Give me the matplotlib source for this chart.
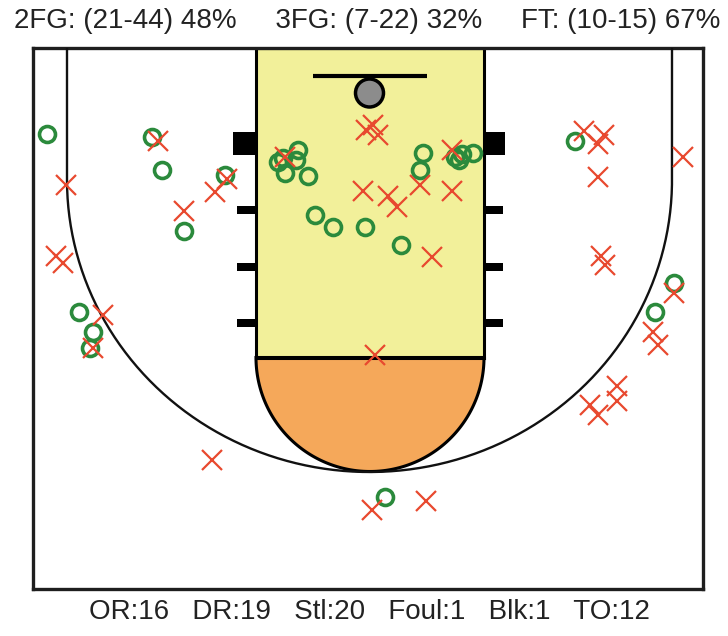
import numpy as np
import matplotlib
matplotlib.use("Agg")
import matplotlib.pyplot as plt
from matplotlib.patches import Rectangle, Circle, Polygon
from matplotlib import font_manager


# ================= DATA =================
# shooting totals (made, attempted)
fg2 = (21, 44)
fg3 = (7, 22)
ft = (10, 15)

# other box score numbers
stat_names = ["OR", "DR", "Stl", "Foul", "Blk", "TO"]
stat_values = [16, 19, 20, 1, 1, 12]

# made shots (court coords, y grows away from the baseline)
made_x = [47, 152, 162, 184, 225, 278, 283, 298, 296, 285, 308, 315, 333, 365,
          401, 423, 420, 455, 459, 462, 473, 575, 674, 655, 79, 93, 90, 385]
made_y = [134, 137, 170, 231, 175, 162, 158, 150, 160, 173, 176, 215, 227, 227,
          245, 153, 170, 157, 160, 154, 153, 141, 283, 312, 312, 332, 348, 497]

# missed shots
miss_x = [158, 66, 184, 56, 63, 215, 227, 285, 366, 373, 378, 363, 388, 397,
          420, 452, 452, 432, 584, 604, 598, 598, 683, 601, 605, 674, 653, 658,
          617, 617, 590, 598, 103, 93, 375, 212, 372, 426]
miss_y = [141, 185, 211, 256, 263, 192, 179, 157, 130, 125, 135, 191, 196, 207,
          185, 191, 150, 257, 131, 135, 144, 177, 157, 256, 265, 293, 332, 345,
          386, 401, 405, 415, 315, 348, 355, 460, 510, 501]


# ================= FONT =================
names = {f.name for f in font_manager.fontManager.ttflist}
fam = "Liberation Sans Narrow" if "Liberation Sans Narrow" in names else "Liberation Sans"
plt.rcParams["font.family"] = [fam, "DejaVu Sans"]


def pct(p):
    return "%d%%" % round(100.0 * p[0] / p[1])


# ================= FIGURE =================
W, H = 728, 636
fig = plt.figure(figsize=(W / 100, H / 100), dpi=100)
ax = fig.add_axes([33 / W, 1 - 589 / H, 670 / W, 541 / H])
ax.set_xlim(33, 703)
ax.set_ylim(589, 48)
ax.set_xticks([])
ax.set_yticks([])
for s in ax.spines.values():
    s.set_linewidth(2.4)
    s.set_color("#1e1e1e")

# paint + free throw half circle
ax.add_patch(Rectangle((256, 48), 228, 309.5, fc="#F2F09A", ec="black", lw=2.2, zorder=1))
t = np.linspace(0, np.pi, 200)
ftc = np.column_stack([370 + 114 * np.cos(t), 357.5 + 114 * np.sin(t)])
ax.add_patch(Polygon(ftc, closed=True, fc="#F5A85A", ec="black", lw=2.2, zorder=2))
ax.plot([256, 484], [357.5, 357.5], color="black", lw=2.2, zorder=3)

# three point line
xs = 369.5 + 302.5 * np.cos(t)
ys = 180 + 292 * np.sin(t)
xs = np.concatenate([[672], xs, [67]])
ys = np.concatenate([[48], ys, [48]])
ax.plot(xs, ys, color="#111111", lw=1.7, zorder=3)

# blocks and hash marks
ax.add_patch(Rectangle((233, 132), 23, 23, fc="black", ec="none", zorder=3))
ax.add_patch(Rectangle((484, 132), 21, 23, fc="black", ec="none", zorder=3))
for yy in [210, 266.5, 323]:
    ax.add_patch(Rectangle((237, yy - 4), 19, 8, fc="black", ec="none", zorder=3))
    ax.add_patch(Rectangle((484, yy - 4), 19, 8, fc="black", ec="none", zorder=3))

# backboard + rim
ax.plot([313, 427], [76, 76], color="black", lw=3, solid_capstyle="butt", zorder=3)
ax.add_patch(Circle((369.5, 93), 14, fc="#8C8C8C", ec="black", lw=2.5, zorder=3))

# shots
ax.plot(made_x, made_y, "o", mfc="none", mec="#2B8A3C", ms=11.5, mew=2.6, zorder=5)
ax.plot(miss_x, miss_y, "x", color="#E8492F", ms=14, mew=1.6, zorder=6)

# ================= TEXT =================
title = "2FG: (%d-%d) %s     3FG: (%d-%d) %s     FT: (%d-%d) %s" % (
    fg2[0], fg2[1], pct(fg2), fg3[0], fg3[1], pct(fg3), ft[0], ft[1], pct(ft))
bottom = "   ".join("%s:%d" % (n, v) for n, v in zip(stat_names, stat_values))
fig.text(367 / W, 1 - 21 / H, title, ha="center", va="center", fontsize=20, color="#222222")
fig.text(369 / W, 1 - 612 / H, bottom, ha="center", va="center", fontsize=20, color="#222222")

fig.savefig("out.png", dpi=100)
